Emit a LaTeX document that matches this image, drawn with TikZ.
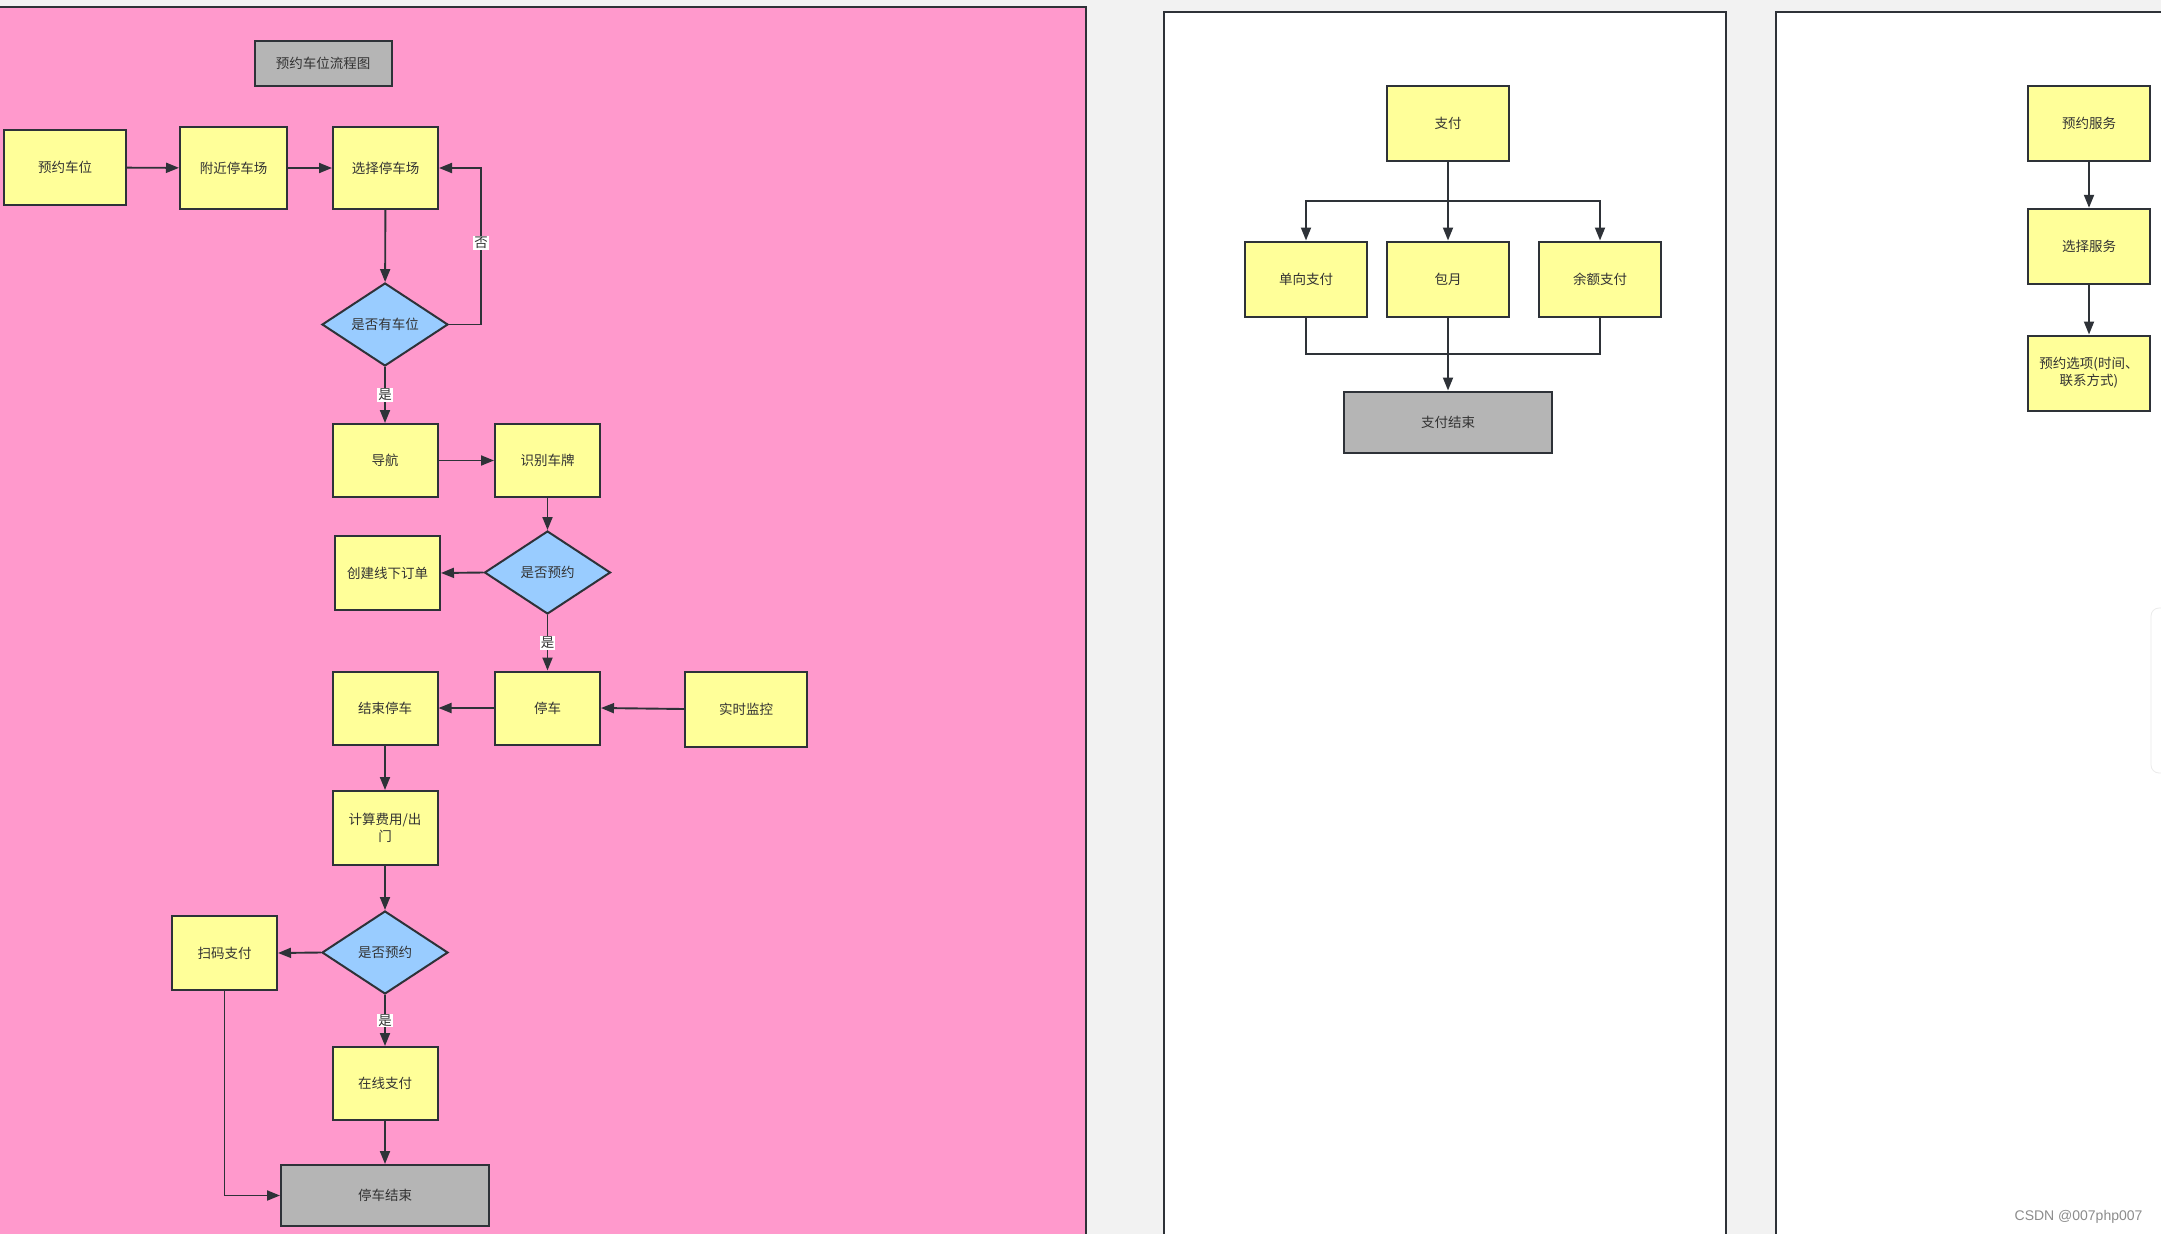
\documentclass[tikz,border=0pt]{standalone}
\usepackage{fontspec}
\setmainfont{Noto Sans CJK SC}
\newfontfamily\markfont{Liberation Sans}
\usepackage{xcolor}
\usepackage{tikz}
\usetikzlibrary{shapes.geometric,arrows.meta,calc}

\definecolor{pagegray}{HTML}{F2F2F2}
\definecolor{panelpink}{HTML}{FF99CC}
\definecolor{boxyellow}{HTML}{FFFF99}
\definecolor{boxblue}{HTML}{99CCFF}
\definecolor{boxgray}{HTML}{B5B5B5}
\definecolor{edgedark}{HTML}{2E3238}
\definecolor{textdark}{HTML}{333333}

\begin{document}
\begin{tikzpicture}[x=1pt, y=-1pt,
    every node/.style={font=\fontsize{13.5}{17}\selectfont, text=textdark},
    box/.style={draw=edgedark, line width=2pt, fill=boxyellow, minimum width=105pt, minimum height=73pt, inner sep=2pt, align=center},
    widebox/.style={box, minimum width=122pt, minimum height=75pt},
    endbox/.style={box, fill=boxgray, minimum width=208pt, minimum height=61pt},
    ask/.style={diamond, aspect=1.5, draw=edgedark, line width=2pt, fill=boxblue, minimum width=126pt, minimum height=83pt, inner sep=1pt},
    conn/.style={draw=edgedark, line width=1.9pt, -{Triangle[length=13pt,width=10pt]}},
    link/.style={draw=edgedark, line width=1.9pt},
    tag/.style={fill=white, inner sep=1pt},
    panel/.style={draw=edgedark, line width=2.2pt}]
\useasboundingbox (0,0) rectangle (2161,1234);

% Page and panels
\fill[pagegray] (0,0) rectangle (2161,1234);
\fill[panelpink] (0,7) rectangle (1086,1240);
\draw[panel] (0,7) -- (1086,7) -- (1086,1240);
\filldraw[panel, fill=white] (1164,1240) -- (1164,12) -- (1726,12) -- (1726,1240);
\filldraw[panel, fill=white] (1776,1240) -- (1776,12) -- (2175,12) -- (2175,1240);
\draw[black!8, line width=0.8pt, rounded corners=8pt] (2175,608) -- (2151,608) -- (2151,773) -- (2175,773);

% Parking flow
\node[box, fill=boxgray, minimum width=137pt, minimum height=45pt] (title) at (323,63.5) {预约车位流程图};
\node[widebox] (book) at (65,167.5) {预约车位};
\node[box, minimum width=107pt, minimum height=82pt] (nearby) at (233.5,168) {附近停车场};
\node[box, minimum height=82pt] (choose) at (385.5,168) {选择停车场};
\node[ask] (free) at (385,324.5) {是否有车位};
\node[box] (nav) at (385,460.5) {导航};
\node[box] (plate) at (547.5,460.5) {识别车牌};
\node[ask] (bookedA) at (547.5,572.5) {是否预约};
\node[box, minimum height=74pt] (offline) at (387.5,573) {创建线下订单};
\node[box] (leave) at (385,708) {结束停车};
\node[box] (park) at (547.5,708) {停车};
\node[widebox] (watch) at (746,709) {实时监控};
\node[box, minimum height=74pt] (fee) at (385,828) {计算费用/出\\门};
\node[ask] (bookedB) at (385,952.5) {是否预约};
\node[box, minimum height=74pt] (scan) at (224.5,953) {扫码支付};
\node[box] (online) at (385,1083.5) {在线支付};
\node[endbox] (parkend) at (385,1195.5) {停车结束};

\draw[conn] (book) -- (nearby);
\draw[conn] (nearby) -- (choose);
\draw[conn] (choose) -- (free);
\draw[conn] (free.east) -- ++(32,0) |- node[tag, pos=0.26] {否} (choose.east);
\draw[conn] (free) -- node[tag] {是} (nav);
\draw[conn] (nav) -- (plate);
\draw[conn] (plate) -- (bookedA);
\draw[conn] (bookedA.west) -- (offline.east);
\draw[conn] (bookedA) -- node[tag] {是} (park);
\draw[conn] (watch.west) -- (park.east);
\draw[conn] (park) -- (leave);
\draw[conn] (leave) -- (fee);
\draw[conn] (fee) -- (bookedB);
\draw[conn] (bookedB.west) -- (scan.east);
\draw[conn] (bookedB) -- node[tag] {是} (online);
\draw[conn] (online) -- (parkend);
\draw[conn] (scan.south) |- (parkend.west);

% Payment flow
\node[widebox] (pay) at (1448,123) {支付};
\node[widebox] (single) at (1306,279) {单向支付};
\node[widebox] (month) at (1448,279) {包月};
\node[widebox] (balance) at (1600,279) {余额支付};
\node[endbox] (payend) at (1448,422) {支付结束};
\coordinate (fork) at ($(pay.south)!0.5!(month.north)$);
\coordinate (merge) at ($(month.south)!0.5!(payend.north)$);

\draw[conn] (pay) -- (month);
\draw[conn] (fork) -| (single);
\draw[conn] (fork) -| (balance);
\draw[link] (single) |- (merge);
\draw[link] (balance) |- (merge);
\draw[conn] (month) -- (payend);

% Booking service
\node[widebox] (service) at (2089,123) {预约服务};
\node[widebox] (pick) at (2089,246.3) {选择服务};
\node[widebox] (options) at (2089,373) {预约选项(时间、\\联系方式)};
\draw[conn] (service) -- (pick);
\draw[conn] (pick) -- (options);

% Watermark
\node[font=\markfont\fontsize{14}{16}\selectfont, text=black!45, anchor=east] (mark) at (2146,1217) {CSDN @007php007};
\end{tikzpicture}
\end{document}
